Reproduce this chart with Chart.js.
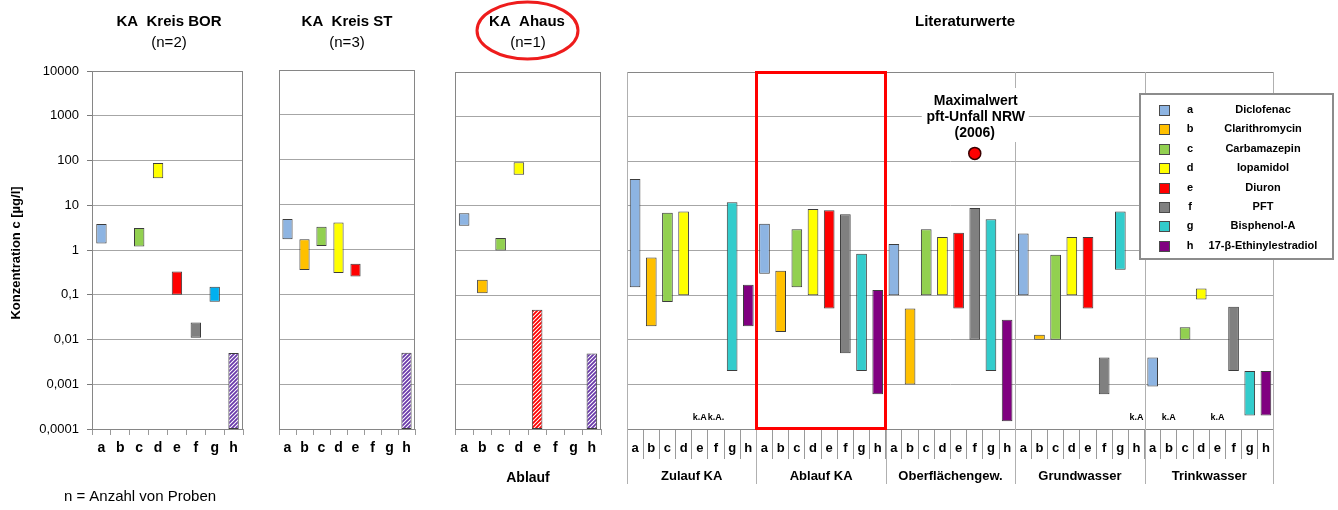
<!DOCTYPE html>
<html lang="de">
<head>
<meta charset="utf-8">
<title>Konzentrationen von Spurenstoffen</title>
<script src="https://cdn.jsdelivr.net/npm/chart.js@4.4.1/dist/chart.umd.min.js"></script>
<style>
  html, body { margin: 0; padding: 0; background: #ffffff; }
  #wrap { position: relative; width: 1338px; height: 510px; overflow: hidden; }
  #wrap canvas { position: absolute; left: 0; top: 0; }
</style>
</head>
<body>
<div id="wrap">
  <canvas id="cBor" width="1338" height="510"></canvas>
  <canvas id="cSt" width="1338" height="510"></canvas>
  <canvas id="cAhaus" width="1338" height="510"></canvas>
  <canvas id="cLit" width="1338" height="510"></canvas>
</div>
<script>
// ---- substances ----
const substanceKeys = ['a', 'b', 'c', 'd', 'e', 'f', 'g', 'h'];
const substanceNames = ['Diclofenac', 'Clarithromycin', 'Carbamazepin', 'Iopamidol',
                        'Diuron', 'PFT', 'Bisphenol-A', '17-\u03B2-Ethinylestradiol'];
const substanceColors = ['#8db4e2', '#ffc000', '#92d050', '#ffff00',
                         '#ff0000', '#808080', '#33cccc', '#800080'];

// ---- concentration axis (µg/l) ----
const yTickValues = [0.0001, 0.001, 0.01, 0.1, 1, 10, 100, 1000, 10000];
const yTickLabels = ['0,0001', '0,001', '0,01', '0,1', '1', '10', '100', '1000', '10000'];

// ---- KA Kreis BOR (n=2): min / max, hatched = below detection limit ----
const borMin = [1.4, null, 1.2, 40, 0.1, 0.011, 0.07, 0.0001];
const borMax = [3.8, null, 3.1, 88, 0.33, 0.024, 0.15, 0.005];
const borBelowLimit = [false, false, false, false, false, false, false, true];
const borColors = ['#8db4e2', '#ffc000', '#92d050', '#ffff00', '#ff0000', '#808080', '#00b0f0', '#800080'];

// ---- KA Kreis ST (n=3) ----
const stMin = [1.7, 0.35, 1.2, 0.3, 0.25, null, null, 0.0001];
const stMax = [4.8, 1.7, 3.2, 4.0, 0.48, null, null, 0.005];
const stBelowLimit = [false, false, false, false, false, false, false, true];

// ---- KA Ahaus (n=1), Ablauf ----
const ahausMin = [3.6, 0.11, 1.0, 50, 0.0001, null, null, 0.0001];
const ahausMax = [6.8, 0.22, 1.9, 95, 0.047, null, null, 0.0049];
const ahausBelowLimit = [false, false, false, false, true, false, false, true];

// ---- Literaturwerte: ranges per water type ----
const litGroups = ['Zulauf KA', 'Ablauf KA', 'Oberfl\u00E4chengew.', 'Grundwasser', 'Trinkwasser'];
const zulaufMin = [0.15, 0.02, 0.07, 0.1, null, null, 0.002, 0.02];
const zulaufMax = [40, 0.7, 7, 7.5, null, null, 12, 0.17];
const ablaufMin = [0.3, 0.015, 0.15, 0.1, 0.05, 0.005, 0.002, 0.0006];
const ablaufMax = [4, 0.35, 3, 8.5, 8, 6.5, 0.85, 0.13];
const oberflMin = [0.1, 0.001, 0.1, 0.1, 0.05, 0.01, 0.002, 0.00015];
const oberflMax = [1.4, 0.05, 3, 2, 2.5, 9, 5, 0.028];
const grundMin = [0.1, 0.01, 0.01, 0.1, 0.05, 0.0006, 0.37, null];
const grundMax = [2.4, 0.013, 0.8, 2, 2, 0.004, 7.5, null];
const trinkMin = [0.0009, null, 0.01, 0.08, null, 0.002, 0.0002, 0.0002];
const trinkMax = [0.004, null, 0.019, 0.14, null, 0.055, 0.002, 0.002];
// "keine Angabe" texts for the empty columns of each water type
const zulaufNoData = ['', '', '', '', 'k.A', 'k.A.', '', ''];
const ablaufNoData = ['', '', '', '', '', '', '', ''];
const oberflNoData = ['', '', '', '', '', '', '', ''];
const grundNoData = ['', '', '', '', '', '', '', 'k.A'];
const trinkNoData = ['', 'k.A', '', '', 'k.A', '', '', ''];

// PFT maximum, surface water, accident NRW 2006
const pftAccidentMax = 150;
const pftAccidentGroup = 2;   // Oberflächengew.
const pftAccidentSubstance = 5; // f = PFT

// ------------------------------------------------------------------
const W = 1338, H = 510;
const FONT = "'Liberation Sans', Arial, Helvetica, sans-serif";
Chart.defaults.font.family = FONT;
Chart.defaults.color = '#000000';

function font(size, bold) { return (bold ? 'bold ' : '') + size + 'px ' + FONT; }

function text(ctx, s, x, y, f, color, align) {
  ctx.save();
  ctx.font = f;
  ctx.fillStyle = color || '#000';
  ctx.textAlign = align || 'center';
  ctx.textBaseline = 'middle';
  ctx.fillText(s, x, y);
  ctx.restore();
}

function hatch(color) {
  const c = document.createElement('canvas');
  c.width = 4; c.height = 4;
  const g = c.getContext('2d');
  g.fillStyle = '#ffffff';
  g.fillRect(0, 0, 4, 4);
  g.strokeStyle = color;
  g.lineWidth = 1.8;
  g.beginPath();
  g.moveTo(-1, 5); g.lineTo(5, -1);
  g.moveTo(-3, 3); g.lineTo(3, -3);
  g.moveTo(1, 7); g.lineTo(7, 1);
  g.stroke();
  return g.createPattern(c, 'repeat');
}

function ranges(mins, maxs) {
  return mins.map((m, i) => (m == null ? null : [m, maxs[i]]));
}

function fills(colors, below) {
  return colors.map((c, i) => (below && below[i] ? hatch(c === '#800080' ? '#6a3aaa' : c) : c));
}

function yLabel(v) {
  const i = yTickValues.findIndex(t => Math.abs(Math.log10(t) - Math.log10(v)) < 1e-6);
  return i < 0 ? '' : yTickLabels[i];
}

function frame(chart) {
  const a = chart.chartArea, ctx = chart.ctx;
  ctx.save();
  ctx.strokeStyle = '#868686';
  ctx.lineWidth = 1;
  ctx.strokeRect(Math.round(a.left) + 0.5, Math.round(a.top) + 0.5,
                 Math.round(a.right - a.left) - 1, Math.round(a.bottom - a.top));
  ctx.restore();
}

function vline(ctx, x, y1, y2, color, w) {
  ctx.save();
  ctx.strokeStyle = color;
  ctx.lineWidth = w || 1;
  ctx.beginPath();
  const px = Math.round(x) + 0.5;
  ctx.moveTo(px, y1); ctx.lineTo(px, y2);
  ctx.stroke();
  ctx.restore();
}

// area: chart area in page pixels; yW / xH: fixed axis sizes
function panel(id, o) {
  return new Chart(document.getElementById(id), {
    type: 'bar',
    data: { labels: o.labels, datasets: o.datasets },
    options: {
      responsive: false,
      animation: false,
      devicePixelRatio: 1,
      layout: { padding: { left: o.area.l - o.yW, right: W - o.area.r, top: o.area.t, bottom: H - o.area.b - o.xH } },
      plugins: { legend: { display: false }, tooltip: { enabled: false } },
      scales: {
        x: {
          type: 'category',
          offset: true,
          grid: { offset: true, drawOnChartArea: false, drawTicks: true, tickLength: o.xTick,
                  color: '#9a9a9a', tickColor: '#9a9a9a', lineWidth: 1 },
          border: { display: false },
          ticks: { font: { size: o.xFont, weight: 'bold' }, color: '#000', padding: o.xPad,
                   maxRotation: 0, minRotation: 0, autoSkip: false },
          afterFit: s => { s.height = o.xH; }
        },
        y: {
          type: 'logarithmic',
          min: 0.0001, max: 10000,
          afterBuildTicks: s => { s.ticks = yTickValues.map(v => ({ value: v })); },
          afterFit: s => { s.width = o.yW; },
          grid: { color: '#a6a6a6', lineWidth: 1, drawTicks: o.yTicks, tickLength: 5, tickColor: '#7a7a7a' },
          border: { display: false },
          ticks: { display: o.yTicks, callback: v => yLabel(v), font: { size: 13 }, color: '#000',
                   padding: 8, autoSkip: false }
        }
      }
    },
    plugins: [{
      id: 'decor_' + id,
      beforeDatasetsDraw(chart) { frame(chart); if (o.under) o.under(chart); },
      afterDatasetsDraw(chart) { if (o.over) o.over(chart); },
      afterDraw(chart) { if (o.top) o.top(chart); }
    }]
  });
}

function barSet(mins, maxs, colors, below, pct) {
  return {
    data: ranges(mins, maxs),
    backgroundColor: fills(colors, below),
    borderColor: '#3c3c3c',
    borderWidth: 1,
    borderSkipped: false,
    barPercentage: pct,
    categoryPercentage: 1
  };
}

// ---- KA Kreis BOR ----
panel('cBor', {
  area: { l: 92, r: 243, t: 71, b: 429 }, yW: 80, xH: 40, yTicks: true,
  xTick: 6, xFont: 14, xPad: 5,
  labels: substanceKeys,
  datasets: [barSet(borMin, borMax, borColors, borBelowLimit, 0.55)],
  top(chart) {
    const ctx = chart.ctx;
    text(ctx, 'KA  Kreis BOR', 169, 22, font(15, true));
    text(ctx, '(n=2)', 169, 43, font(15, false));
    ctx.save();
    ctx.translate(16, 253);
    ctx.rotate(-Math.PI / 2);
    text(ctx, 'Konzentration c [\u00B5g/l]', 0, 0, font(13, true));
    ctx.restore();
    text(ctx, 'n = Anzahl von Proben', 140, 497, font(15, false));
  }
});

// ---- KA Kreis ST ----
panel('cSt', {
  area: { l: 279, r: 415, t: 70, b: 429 }, yW: 10, xH: 40, yTicks: false,
  xTick: 6, xFont: 14, xPad: 5,
  labels: substanceKeys,
  datasets: [barSet(stMin, stMax, substanceColors, stBelowLimit, 0.6)],
  top(chart) {
    const ctx = chart.ctx;
    text(ctx, 'KA  Kreis ST', 347, 22, font(15, true));
    text(ctx, '(n=3)', 347, 43, font(15, false));
  }
});

// ---- KA Ahaus ----
panel('cAhaus', {
  area: { l: 455, r: 601, t: 72, b: 429 }, yW: 10, xH: 40, yTicks: false,
  xTick: 6, xFont: 14, xPad: 5,
  labels: substanceKeys,
  datasets: [barSet(ahausMin, ahausMax, substanceColors, ahausBelowLimit, 0.58)],
  top(chart) {
    const ctx = chart.ctx;
    text(ctx, 'KA  Ahaus', 527, 22, font(15, true));
    text(ctx, '(n=1)', 528, 43, font(15, false));
    ctx.save();
    ctx.strokeStyle = '#ee1c1c';
    ctx.lineWidth = 3;
    ctx.beginPath();
    ctx.ellipse(527.5, 30.5, 50.5, 28.5, 0, 0, Math.PI * 2);
    ctx.stroke();
    ctx.restore();
    text(ctx, 'Ablauf', 528, 478, font(14, true));
  }
});

// ---- Literaturwerte ----
const litMin = [].concat(zulaufMin, ablaufMin, oberflMin, grundMin, trinkMin);
const litMax = [].concat(zulaufMax, ablaufMax, oberflMax, grundMax, trinkMax);
const litNoData = [].concat(zulaufNoData, ablaufNoData, oberflNoData, grundNoData, trinkNoData);
const litLabels = [].concat(...litGroups.map(() => substanceKeys));
const litColors = [].concat(...litGroups.map(() => substanceColors));
const pftPoint = litLabels.map((_, i) => (i === pftAccidentGroup * 8 + pftAccidentSubstance ? pftAccidentMax : null));

const litBars = barSet(litMin, litMax, litColors, null, 0.66);
litBars.order = 2;

panel('cLit', {
  area: { l: 627, r: 1274, t: 72, b: 429 }, yW: 10, xH: 60, yTicks: false,
  xTick: 30, xFont: 13, xPad: -18,
  labels: litLabels,
  datasets: [
    litBars,
    {
      type: 'line', data: pftPoint, showLine: false, order: 1,
      pointRadius: 6, pointBackgroundColor: '#ff0000', pointBorderColor: '#3a0000', pointBorderWidth: 1.5
    }
  ],
  under(chart) {
    const ctx = chart.ctx, xs = chart.scales.x, a = chart.chartArea;
    // water type separators, through the plot and down past the group names
    for (let g = 0; g <= litGroups.length; g++) {
      const x = xs.getPixelForValue(g * 8 - 0.5);
      vline(ctx, Math.min(x, a.right - 1), a.top, 484, '#b0b0b0');
    }
    // PFT accident note
    const px = xs.getPixelForValue(pftAccidentGroup * 8 + pftAccidentSubstance);
    ctx.save();
    ctx.fillStyle = '#ffffff';
    ctx.fillRect(px - 53, 88, 107, 54);
    ctx.restore();
    text(ctx, 'Maximalwert', px + 1, 101, font(14, true));
    text(ctx, 'pft-Unfall NRW', px + 1, 117, font(14, true));
    text(ctx, '(2006)', px, 133, font(14, true));
  },
  over(chart) {
    const ctx = chart.ctx, xs = chart.scales.x, a = chart.chartArea;
    litNoData.forEach((s, i) => { if (s) text(ctx, s, xs.getPixelForValue(i), 418, font(9, true)); });
    // highlighted effluent range
    const x1 = xs.getPixelForValue(8 - 0.5), x2 = xs.getPixelForValue(16 - 0.5);
    ctx.save();
    ctx.strokeStyle = '#ff0000';
    ctx.lineWidth = 3;
    ctx.strokeRect(Math.round(x1) + 0.5, a.top + 0.5, Math.round(x2 - x1), a.bottom - a.top - 1);
    ctx.restore();
  },
  top(chart) {
    const ctx = chart.ctx, xs = chart.scales.x;
    text(ctx, 'Literaturwerte', 965, 22, font(15, true));
    litGroups.forEach((g, i) => {
      const x = (xs.getPixelForValue(i * 8 - 0.5) + xs.getPixelForValue(i * 8 + 7.5)) / 2;
      text(ctx, g, x, 476, font(13, true));
    });
    // legend
    const bx = 1140, by = 94, bw = 193, bh = 165;
    ctx.save();
    ctx.fillStyle = '#ffffff';
    ctx.fillRect(bx, by, bw, bh);
    ctx.strokeStyle = '#8c8c8c';
    ctx.lineWidth = 2;
    ctx.strokeRect(bx, by, bw, bh);
    ctx.restore();
    substanceKeys.forEach((k, i) => {
      const y = 110 + i * 19.4;
      ctx.save();
      ctx.fillStyle = substanceColors[i];
      ctx.fillRect(1159, Math.round(y) - 5, 10, 10);
      ctx.strokeStyle = '#4a4a4a';
      ctx.lineWidth = 1;
      ctx.strokeRect(1159.5, Math.round(y) - 4.5, 10, 10);
      ctx.restore();
      text(ctx, k, 1190, y, font(11, true));
      text(ctx, substanceNames[i], 1263, y, font(11, true));
    });
  }
});
</script>
</body>
</html>
